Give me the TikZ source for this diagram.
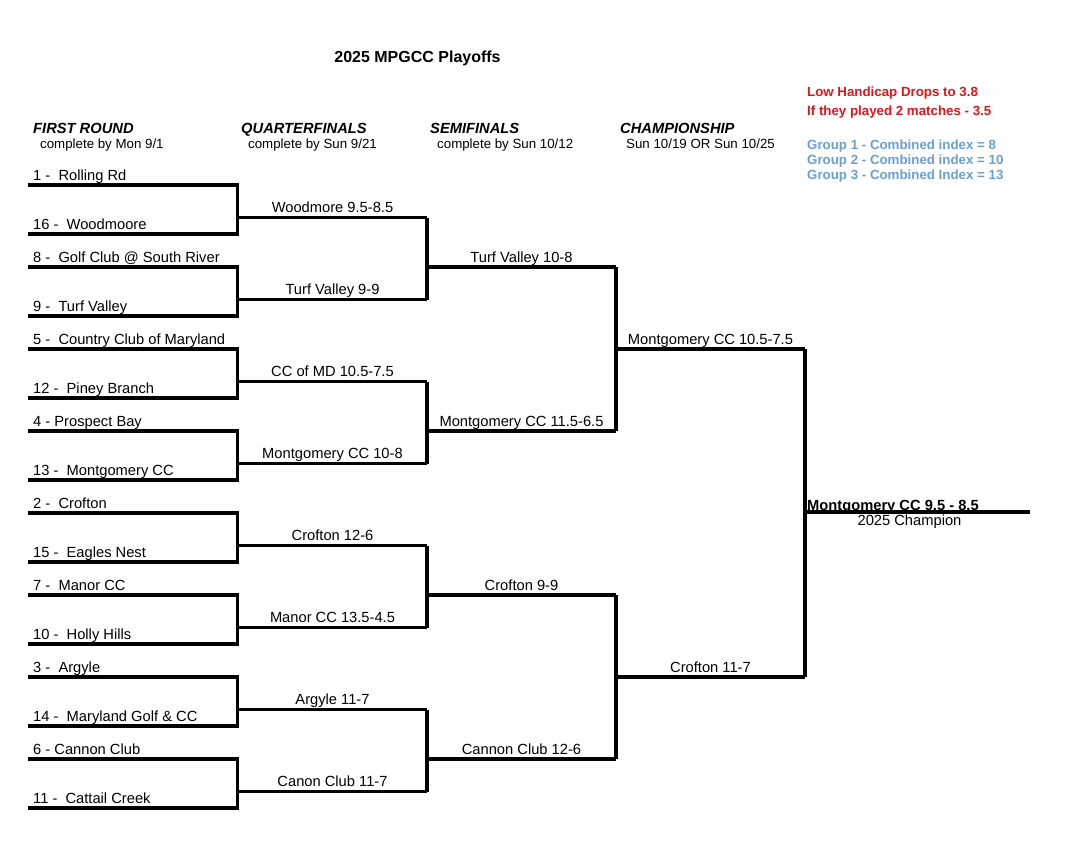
\documentclass[tikz,border=0pt]{standalone}
\usepackage{fontspec}
\setmainfont{Liberation Sans}
\usepackage{xcolor}
\usetikzlibrary{positioning}
\definecolor{hcpred}{HTML}{E2141C}
\definecolor{grpblue}{HTML}{6A9FD2}
\tikzset{team/.style={anchor=base west,inner sep=0pt,font=\fontsize{14.7}{17}\selectfont},
         score/.style={anchor=base,inner sep=0pt,font=\fontsize{14.7}{17}\selectfont},
         header/.style={anchor=base west,inner sep=0pt,font=\fontsize{14.7}{17}\selectfont\bfseries\itshape},
         sub/.style={anchor=base west,inner sep=0pt,font=\fontsize{13.3}{16}\selectfont},
         note/.style={anchor=base west,inner sep=0pt,font=\fontsize{13.3}{16}\selectfont\bfseries},
         bracket/.style={draw,line width=3.3pt}}

\begin{document}
\begin{tikzpicture}[x=1pt,y=-1pt]
    \useasboundingbox (0,0) rectangle (1067,862);
    \node (title) [anchor=base,inner sep=0pt,font=\fontsize{16}{19}\selectfont\bfseries] at (417.5,62) {2025 MPGCC Playoffs};
    % round headers
    \node (h1) [header] at (33,133) {FIRST ROUND};
    \node (s1) [sub] at (40,148.5) {complete by Mon 9/1};
    \node (h2) [header] at (241,133) {QUARTERFINALS};
    \node (s2) [sub] at (248,148.5) {complete by Sun 9/21};
    \node (h3) [header] at (430,133) {SEMIFINALS};
    \node (s3) [sub] at (437,148.5) {complete by Sun 10/12};
    \node (h4) [header] at (620,133) {CHAMPIONSHIP};
    \node (s4) [sub] at (626,148.5) {Sun 10/19 OR Sun 10/25};
    % notes
    \node (n1) [note, text=hcpred] at (807,96) {Low Handicap Drops to 3.8};
    \node (n2) [note, text=hcpred] at (807,115) {If they played 2 matches - 3.5};
    \node (g1) [note, text=grpblue] at (807,149) {Group 1 - Combined index = 8};
    \node (g2) [note, text=grpblue] at (807,164) {Group 2 - Combined index = 10};
    \node (g3) [note, text=grpblue] at (807,179) {Group 3 - Combined Index = 13};
    % first round and quarterfinals
    \foreach \k/\ta/\tb/\res in {0/{1 -\ \ Rolling Rd}/{16 -\ \ Woodmoore}/{Woodmore 9.5-8.5},
                                 1/{8 -\ \ Golf Club @ South River}/{9 -\ \ Turf Valley}/{Turf Valley 9-9},
                                 2/{5 -\ \ Country Club of Maryland}/{12 -\ \ Piney Branch}/{CC of MD 10.5-7.5},
                                 3/{4 - Prospect Bay}/{13 -\ \ Montgomery CC}/{Montgomery CC 10-8},
                                 4/{2 -\ \ Crofton}/{15 -\ \ Eagles Nest}/{Crofton 12-6},
                                 5/{7 -\ \ Manor CC}/{10 -\ \ Holly Hills}/{Manor CC 13.5-4.5},
                                 6/{3 -\ \ Argyle}/{14 -\ \ Maryland Golf \& CC}/{Argyle 11-7},
                                 7/{6 - Cannon Club}/{11 -\ \ Cattail Creek}/{Canon Club 11-7}} {
      \pgfmathsetmacro\ya{185+82*\k}
      \pgfmathsetmacro\yb{234+82*\k}
      \pgfmathsetmacro\yq{217.5+82*\k}
      \coordinate (a\k) at (28,\ya);
      \coordinate (b\k) at (28,\yb);
      \coordinate (q\k) at (237.5,\yq);
      \coordinate (qe\k) at (427,\yq);
      \node (ta\k) [team] at (33,\ya-5) {\ta};
      \node (tb\k) [team] at (33,\yb-5) {\tb};
      \node (qs\k) [score] at (332.5,\yq-5) {\res};
      \draw[bracket] (a\k) -- (237.5,\ya) -- (237.5,\yb) -- (b\k);
      \draw[bracket] (q\k) -- (qe\k);
    }
    % semifinals
    \foreach \j/\res in {0/{Turf Valley 10-8},1/{Montgomery CC 11.5-6.5},2/{Crofton 9-9},3/{Cannon Club 12-6}} {
      \pgfmathsetmacro\ys{267+164*\j}
      \pgfmathtruncatemacro\qa{2*\j}
      \pgfmathtruncatemacro\qb{2*\j+1}
      \coordinate (f\j) at (427,\ys);
      \coordinate (fe\j) at (616,\ys);
      \node (fs\j) [score] at (521.5,\ys-5) {\res};
      \draw[bracket] (qe\qa) -- (qe\qb);
      \draw[bracket] (f\j) -- (fe\j);
    }
    % championship
    \foreach \i/\res in {0/{Montgomery CC 10.5-7.5},1/{Crofton 11-7}} {
      \pgfmathsetmacro\yc{349+328*\i}
      \pgfmathtruncatemacro\fa{2*\i}
      \pgfmathtruncatemacro\fb{2*\i+1}
      \coordinate (c\i) at (616,\yc);
      \coordinate (ce\i) at (805,\yc);
      \node (cs\i) [score] at (710.5,\yc-5) {\res};
      \draw[bracket] (fe\fa) -- (fe\fb);
      \draw[bracket] (c\i) -- (ce\i);
    }
    \draw[bracket] (ce0) -- (ce1);
    \coordinate (w) at (805,512);
    \coordinate (we) at (1030,512);
    \draw[bracket] (w) -- (we);
    \node (champ) [team, font=\fontsize{14.7}{17}\selectfont\bfseries] at (807,510.5) {Montgomery CC 9.5 - 8.5};
    \node (champlbl) [score] at (909.5,525) {2025 Champion};
  \end{tikzpicture}
\end{document}
